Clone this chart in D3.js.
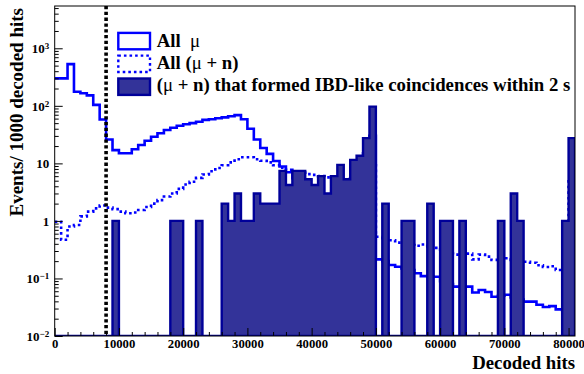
<!DOCTYPE html>
<html><head><meta charset="utf-8">
<script src="https://cdn.jsdelivr.net/npm/d3@7"></script>
<style>
html,body{margin:0;padding:0;background:#fff;}
svg{display:block;}
text{font-family:"Liberation Serif","Times New Roman",serif;font-weight:bold;}
</style></head>
<body>
<svg id="c" width="584" height="374"></svg>
<script>
// ---- data (bin width 1000 decoded hits, 0..81000) ----
const binEdgesStart = 0;
const binWidth = 1000;
const allMu = [300,300,530,176,165,152,104,58,26,17,
  15,15,17.6,20.8,24.8,29,33.4,38,41.7,45.2,
  48,50,53,57,58.5,61,63,66,69,58.5,
  40,26,18.5,14.6,11,8.8,7.0,5.5,4.4,3.6,
  3.0,2.7,2.5,2.8,3.5,4.0,5.5,8,15,30,
  0.215,0.2,0.171,0.16,0.15,0.14,0.123,0.11,0.108,0.107,
  0.09,0.08,0.072,0.072,0.072,0.057,0.063,0.058,0.048,0.05,
  0.052,0.047,0.043,0.0395,0.0395,0.035,0.032,0.033,0.029,0.028,
  0.8];
const allMuN = [0.97,0.47,0.8,0.85,1.2,1.45,1.65,1.85,1.7,1.6,
  1.45,1.36,1.4,1.55,1.75,2.0,2.3,2.65,3.0,3.6,
  4.3,4.8,5.6,6.4,7.3,8.3,9.3,10.4,11.8,12.8,
  12.8,11.8,11.1,10.4,9.3,8.4,7.7,7.2,6.9,6.5,
  6.3,6.0,5.7,5.5,5.3,5.0,5.5,6.5,8,10.6,
  0.53,0.5,0.46,0.42,0.4,0.38,0.37,0.39,0.36,0.34,
  0.32,0.3,0.26,0.27,0.27,0.215,0.26,0.24,0.21,0.22,
  0.225,0.21,0.2,0.195,0.188,0.17,0.158,0.163,0.14,0.13,
  5.2];
const ibdLike = [0,0,0,0,0,0,0,0,0,1,
  0,0,0,0,0,0,0,0,1,1,
  0,0,1,0,0,0,2,1,3,1,
  1,3,2,2,2,7.4,4.2,7.4,7.4,5.3,
  4.2,6,3,6,9.4,5.3,11.5,13.6,27.5,97,
  0,2,0,0,1,1,0,0,2,0,
  1,1,0,1,0,0,0,0,0,1,
  0,3,1,0,0,0,0,0,0,1,
  27.5];
const xTicks = [0,10000,20000,30000,40000,50000,60000,70000,80000];
const yTicks = [0.01,0.1,1,10,100,1000];
const cutValue = 8000;
const legendLabels = ["All\u00A0\u00A0μ","All (μ + n)","(μ + n) that formed IBD-like coincidences within 2 s"];
const xTitle = "Decoded hits";
const yTitle = "Events/ 1000 decoded hits";

// ---- layout ----
const L = 54.7, R = 575, T = 6, B = 336;
const yMin = 0.01, yMax = Math.pow(10, 3.735);
const svg = d3.select("#c");
const x = d3.scaleLinear().domain([0, 81000]).range([L, R]);
const y = d3.scaleLog().domain([yMin, yMax]).range([B, T]).clamp(true);
const yv = v => y(Math.max(v, yMin));

svg.append("defs").append("clipPath").attr("id","clip")
  .append("rect").attr("x",L).attr("y",T).attr("width",R-L).attr("height",B-T);

function steps(vals){
  const pts = [];
  vals.forEach((v,i)=>{
    const a = binEdgesStart + i*binWidth;
    pts.push([a, v]); pts.push([a+binWidth, v]);
  });
  return pts;
}
const line = d3.line().x(d=>x(d[0])).y(d=>yv(d[1]));
const area = d3.area().x(d=>x(d[0])).y0(y(yMin)).y1(d=>yv(d[1]));

const plot = svg.append("g").attr("clip-path","url(#clip)");
plot.append("path").attr("d", line(steps(allMu)))
  .attr("fill","none").attr("stroke","#0000ff").attr("stroke-width",2.6);
plot.append("path").attr("d", line(steps(allMuN)))
  .attr("fill","none").attr("stroke","#0000ff").attr("stroke-width",2.6)
  .attr("stroke-dasharray","2.6,3");
const fillPts = [[0,0]].concat(steps(ibdLike)).concat([[81000,0]]);
plot.append("path").attr("d", area(fillPts))
  .attr("fill","#333399").attr("stroke","#000099").attr("stroke-width",2.4)
  .attr("stroke-linejoin","miter");

// cut line
svg.append("line").attr("x1",x(cutValue)).attr("x2",x(cutValue))
  .attr("y1",T).attr("y2",B).attr("stroke","#000").attr("stroke-width",3.6)
  .attr("stroke-dasharray","3.3,2.5");

// frame
svg.append("rect").attr("x",L).attr("y",T).attr("width",R-L).attr("height",B-T)
  .attr("fill","none").attr("stroke","#000").attr("stroke-width",1);

// x axis
const xMinor = d3.range(0, 81001, 2000).filter(v=>v%10000!==0);
const gxm = svg.append("g").attr("transform",`translate(0,${B})`)
  .call(d3.axisBottom(x).tickValues(xMinor).tickSize(-4).tickSizeOuter(0).tickFormat(""));
const gx = svg.append("g").attr("transform",`translate(0,${B})`)
  .call(d3.axisBottom(x).tickValues(xTicks).tickSize(-8).tickSizeOuter(0).tickPadding(3).tickFormat(d3.format("d")));
[gx,gxm].forEach(g=>{g.select(".domain").remove(); g.selectAll("line").attr("stroke","#000");});
gx.selectAll("text").attr("font-size",12.7).attr("fill","#000")
  .attr("font-family","Liberation Serif, serif").attr("font-weight","bold");

// y axis
const yMinor = [];
for (let e=-2; e<=3; e++) for (let k=2;k<=9;k++){ const v=k*Math.pow(10,e); if (v<yMax) yMinor.push(v); }
const gym = svg.append("g").attr("transform",`translate(${L},0)`)
  .call(d3.axisLeft(y).tickValues(yMinor).tickSize(-4).tickSizeOuter(0).tickFormat(""));
const gy = svg.append("g").attr("transform",`translate(${L},0)`)
  .call(d3.axisLeft(y).tickValues(yTicks).tickSize(-8).tickSizeOuter(0).tickPadding(5.5).tickFormat(d=>String(d)));
[gy,gym].forEach(g=>{g.select(".domain").remove(); g.selectAll("line").attr("stroke","#000");});
gy.selectAll("text").attr("font-size",13).attr("fill","#000")
  .attr("font-family","Liberation Serif, serif").attr("font-weight","bold")
  .each(function(d){
    const e = Math.round(Math.log10(d));
    const t = d3.select(this);
    if (e===0 || e===1) { t.text(e===0?"1":"10"); return; }
    t.text(null);
    t.append("tspan").text("10");
    t.append("tspan").attr("dy","-0.42em").attr("font-size","9px")
      .text(e<0 ? "\u2212"+(-e) : String(e));
  });

// titles
svg.append("text").attr("x",R).attr("y",368.5).attr("text-anchor","end")
  .attr("font-size",18.8).text(xTitle);
svg.append("text").attr("transform","translate(22.5,8) rotate(-90)")
  .attr("text-anchor","end").attr("font-size",19).text(yTitle);

// legend
const lg = svg.append("g");
const boxX = 118.3, boxW = 31.7, boxH = 16.4;
const rows = [32.9, 55.6, 78.5];
const bases = [46.5, 68.8, 91.3];
lg.append("rect").attr("x",boxX).attr("y",rows[0]).attr("width",boxW).attr("height",boxH)
  .attr("fill","#fff").attr("stroke","#0000ff").attr("stroke-width",2.4);
lg.append("rect").attr("x",boxX).attr("y",rows[1]).attr("width",boxW).attr("height",boxH)
  .attr("fill","#fff").attr("stroke","#0000ff").attr("stroke-width",2.4).attr("stroke-dasharray","2.6,3");
lg.append("rect").attr("x",boxX).attr("y",rows[2]).attr("width",boxW).attr("height",boxH)
  .attr("fill","#333399").attr("stroke","#000099").attr("stroke-width",2.4);
legendLabels.forEach((s,i)=>{
  const t = lg.append("text").attr("x",156.7).attr("y",bases[i]).attr("font-size",18.8)
    .style("white-space","pre");
  s.split(/(μ)/).forEach(part=>{
    if (!part) return;
    const sp = t.append("tspan").text(part);
    if (part==="μ") sp.attr("font-weight","normal");
  });
});
</script>
</body></html>
